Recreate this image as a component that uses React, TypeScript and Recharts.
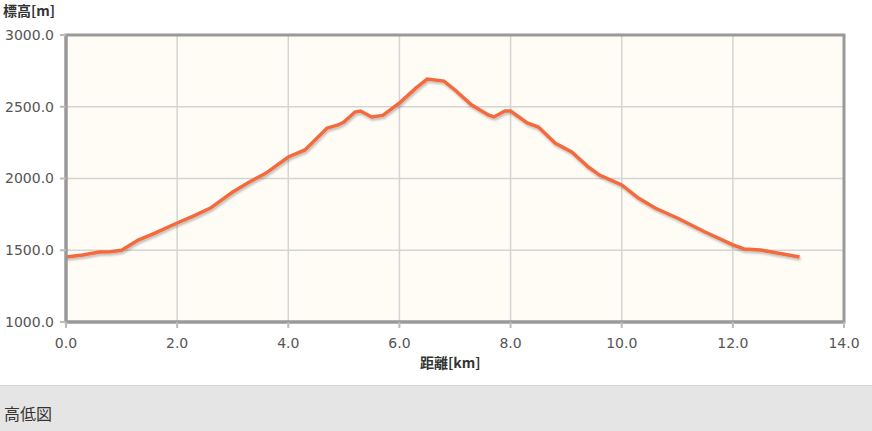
import React from 'react';
import { LineChart, Line, XAxis, YAxis, CartesianGrid, ReferenceArea } from 'recharts';

const distanceKm = [0, 0.3, 0.6, 0.8, 1.0, 1.3, 1.6, 2.0, 2.3, 2.6, 3.0, 3.3, 3.6, 4.0, 4.3, 4.7, 4.9, 5.0, 5.2, 5.3, 5.5, 5.7, 5.9, 6.0, 6.3, 6.5, 6.8, 7.0, 7.3, 7.6, 7.7, 7.9, 8.0, 8.3, 8.5, 8.8, 9.1, 9.4, 9.6, 10.0, 10.3, 10.6, 11.0, 11.5, 12.0, 12.2, 12.5, 12.8, 13.2];
const elevationM = [1453, 1467, 1488, 1490, 1500, 1571, 1620, 1690, 1740, 1794, 1906, 1976, 2038, 2150, 2199, 2352, 2373, 2394, 2463, 2470, 2429, 2440, 2498, 2526, 2631, 2693, 2679, 2617, 2512, 2443, 2429, 2470, 2470, 2387, 2359, 2247, 2185, 2080, 2024, 1955, 1864, 1794, 1725, 1627, 1537, 1509, 1502, 1481, 1453];
const xTicks = [0, 2, 4, 6, 8, 10, 12, 14];
const yTicks = [1000, 1500, 2000, 2500, 3000];

const data = distanceKm.map((d, i) => ({ d, h: elevationM[i] }));

const tickStyle = { fontFamily: 'DejaVu Sans', fontSize: 14, fill: '#555' };
const labelFont = '"Noto Sans CJK JP", sans-serif';

export default function App() {
  return (
    <div style={{ position: 'absolute', left: 0, top: 0, width: 872, height: 431, background: '#fff', overflow: 'hidden' }}>
      <div style={{ position: 'absolute', left: 3, top: 0, fontFamily: labelFont, fontWeight: 700, fontSize: 14, color: '#333' }}>標高[m]</div>
      <LineChart width={872} height={385} data={data} margin={{ top: 35, right: 28, bottom: 33, left: 0 }}>
        <defs>
          <filter id="lineShadow" x="-5%" y="-5%" width="110%" height="120%">
            <feDropShadow dx="1" dy="2" stdDeviation="1" floodColor="#000" floodOpacity="0.25" />
          </filter>
        </defs>
        <CartesianGrid stroke="#d4d4d4" strokeWidth={1.5} fill="#fffcf5" />
        <XAxis
          dataKey="d"
          type="number"
          domain={[0, 14]}
          ticks={xTicks}
          height={30}
          tickFormatter={(v: number) => v.toFixed(1)}
          tick={tickStyle}
          tickSize={6}
          tickMargin={10}
          stroke="#999"
          strokeWidth={3}
          tickLine={{ stroke: '#bbb', strokeWidth: 2 }}
        />
        <YAxis
          type="number"
          domain={[1000, 3000]}
          ticks={yTicks}
          width={66}
          tickFormatter={(v: number) => v.toFixed(1)}
          tick={tickStyle}
          tickSize={6}
          tickMargin={6}
          stroke="#999"
          strokeWidth={3}
          tickLine={{ stroke: '#bbb', strokeWidth: 2 }}
        />
        <ReferenceArea x1={0} x2={14} y1={1000} y2={3000} fill="none" stroke="#999" strokeWidth={3} ifOverflow="visible" />
        <Line
          type="linear"
          dataKey="h"
          stroke="#f26b3d"
          strokeWidth={3.5}
          dot={false}
          filter="url(#lineShadow)"
          isAnimationActive={false}
        />
      </LineChart>
      <div style={{ position: 'absolute', left: 420, top: 352, fontFamily: labelFont, fontWeight: 700, fontSize: 14, color: '#333' }}>距離[km]</div>
      <div style={{ position: 'absolute', left: 0, top: 385, width: 872, height: 46, background: '#e6e5e5', borderTop: '1px solid #d6d6d6', boxSizing: 'border-box' }}>
        <div style={{ position: 'absolute', left: 4, top: 15, fontFamily: labelFont, fontSize: 16, color: '#333' }}>高低図</div>
      </div>
    </div>
  );
}
